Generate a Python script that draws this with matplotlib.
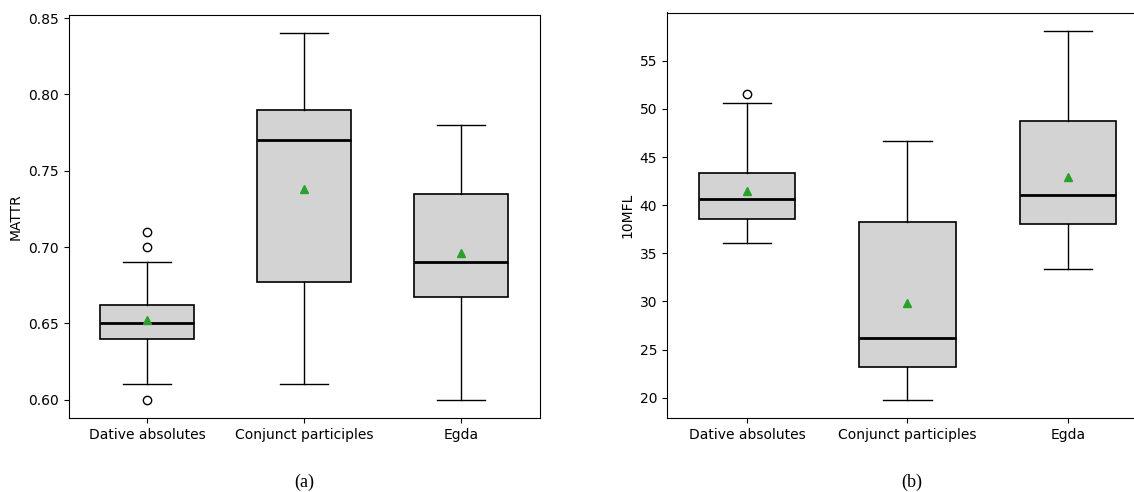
import matplotlib
matplotlib.use("Agg")
import matplotlib.pyplot as plt

# categories
groups = ["Dative absolutes", "Conjunct participles", "Egda"]

# (a) MATTR box statistics
mattr_whislo = [0.61, 0.61, 0.60]
mattr_q1 = [0.640, 0.677, 0.667]
mattr_med = [0.650, 0.770, 0.690]
mattr_q3 = [0.662, 0.790, 0.735]
mattr_whishi = [0.690, 0.840, 0.780]
mattr_mean = [0.652, 0.738, 0.696]
mattr_fliers = [[0.60, 0.70, 0.71], [], []]

# (b) 10MFL box statistics
mfl_whislo = [36.1, 19.8, 33.4]
mfl_q1 = [38.6, 23.2, 38.0]
mfl_med = [40.6, 26.2, 41.1]
mfl_q3 = [43.3, 38.2, 48.7]
mfl_whishi = [50.6, 46.7, 58.1]
mfl_mean = [41.5, 29.8, 42.9]
mfl_fliers = [[51.5], [], []]


def make_stats(lo, q1, med, q3, hi, mean, fliers):
    stats = []
    for i, name in enumerate(groups):
        stats.append(dict(label=name, whislo=lo[i], q1=q1[i], med=med[i],
                          q3=q3[i], whishi=hi[i], mean=mean[i], fliers=fliers[i]))
    return stats


def draw(ax, stats, ylabel):
    ax.bxp(stats, widths=0.6, showmeans=True, patch_artist=True,
           boxprops=dict(facecolor="lightgray", edgecolor="black", linewidth=1.2),
           medianprops=dict(color="black", linewidth=2),
           whiskerprops=dict(color="black", linewidth=1),
           capprops=dict(color="black", linewidth=1),
           meanprops=dict(marker="^", markerfacecolor="#2ca02c",
                          markeredgecolor="#2ca02c", markersize=6),
           flierprops=dict(marker="o", markerfacecolor="none",
                           markeredgecolor="black", markersize=6))
    ax.set_ylabel(ylabel, fontsize=10)
    ax.tick_params(labelsize=10)


W, H = 1134, 492
fig = plt.figure(figsize=(W / 100, H / 100), dpi=100)

ax1 = fig.add_axes([68.5 / W, (H - 418) / H, 471 / W, 403 / H])
draw(ax1, make_stats(mattr_whislo, mattr_q1, mattr_med, mattr_q3,
                     mattr_whishi, mattr_mean, mattr_fliers), "MATTR")
ax1.set_yticks([0.60, 0.65, 0.70, 0.75, 0.80, 0.85])

ax2 = fig.add_axes([666.75 / W, (H - 418) / H, 481.5 / W, 405.5 / H])
draw(ax2, make_stats(mfl_whislo, mfl_q1, mfl_med, mfl_q3,
                     mfl_whishi, mfl_mean, mfl_fliers), "10MFL")
ax2.set_yticks([20, 25, 30, 35, 40, 45, 50, 55])

fig.text(304 / W, 1 - 482 / H, "(a)", ha="center", va="center",
         family="Liberation Serif", fontsize=13)
fig.text(912 / W, 1 - 482 / H, "(b)", ha="center", va="center",
         family="Liberation Serif", fontsize=13)

fig.savefig("out.png", dpi=100)
